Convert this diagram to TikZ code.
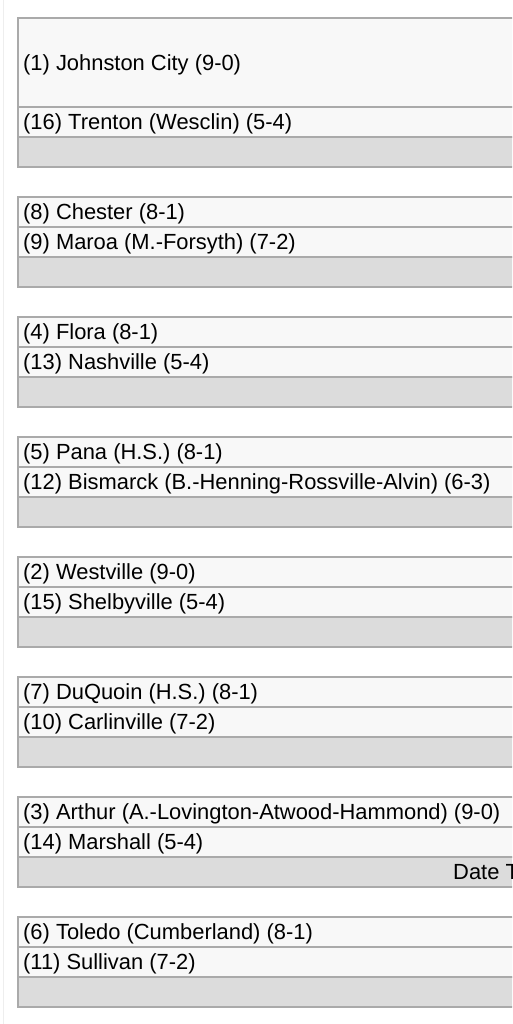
\documentclass[tikz,border=0pt]{standalone}
\usepackage{fontspec}
\setmainfont{Liberation Sans}
\definecolor{rowfill}{HTML}{F8F8F8}
\definecolor{greyfill}{HTML}{DCDCDC}
\definecolor{edge}{HTML}{AAAAAA}
\definecolor{faint}{HTML}{EEEEEE}
\tikzset{
  teamrow/.style={draw=edge, fill=rowfill, line width=1.3pt, rectangle, minimum width=520pt, minimum height=30pt, anchor=north west, inner sep=0pt, outer sep=0pt},
  greyrow/.style={teamrow, fill=greyfill},
  teamtext/.style={anchor=base west, inner sep=0pt, font=\fontsize{21.9pt}{24pt}\selectfont, text=black},
}
\begin{document}
\begin{tikzpicture}[x=1pt,y=1pt]
\useasboundingbox (0,0) rectangle (512,-1024);
\clip (0,0) rectangle (512,-1024);
\fill[white] (0,0) rectangle (512,-1024);
\draw[faint, line width=1pt] (3,0) -- (3,-1024);
% group 1
\node[teamrow, minimum height=89pt] (g1a) at (18,-18) {};
\node[teamrow] (g1b) at (18,-107) {};
\node[greyrow] (g1c) at (18,-137) {};
\node[teamtext] (t1a) at ([xshift=5pt,yshift=-8pt]g1a.west) {(1) Johnston City (9-0)};
\node[teamtext] (t1b) at ([xshift=5pt,yshift=-7.5pt]g1b.west) {(16) Trenton (Wesclin) (5-4)};
% groups 2-8
\foreach \k/\ta/\tb in {
  2/{(8) Chester (8-1)}/{(9) Maroa (M.-Forsyth) (7-2)},
  3/{(4) Flora (8-1)}/{(13) Nashville (5-4)},
  4/{(5) Pana (H.S.) (8-1)}/{(12) Bismarck (B.-Henning-Rossville-Alvin) (6-3)},
  5/{(2) Westville (9-0)}/{(15) Shelbyville (5-4)},
  6/{(7) DuQuoin (H.S.) (8-1)}/{(10) Carlinville (7-2)},
  7/{(3) Arthur (A.-Lovington-Atwood-Hammond) (9-0)}/{(14) Marshall (5-4)},
  8/{(6) Toledo (Cumberland) (8-1)}/{(11) Sullivan (7-2)}}{
  \pgfmathsetmacro{\top}{-197-120*(\k-2)}
  \node[teamrow] (g\k a) at (18,\top) {};
  \node[teamrow] (g\k b) at (18,\top-30) {};
  \node[greyrow] (g\k c) at (18,\top-60) {};
  \node[teamtext] (t\k a) at ([xshift=5pt,yshift=-7.5pt]g\k a.west) {\ta};
  \node[teamtext] (t\k b) at ([xshift=5pt,yshift=-7.5pt]g\k b.west) {\tb};
}
\node[teamtext] (date7) at ([xshift=435pt,yshift=-7.5pt]g7c.west) {Date T};
\end{tikzpicture}
\end{document}
